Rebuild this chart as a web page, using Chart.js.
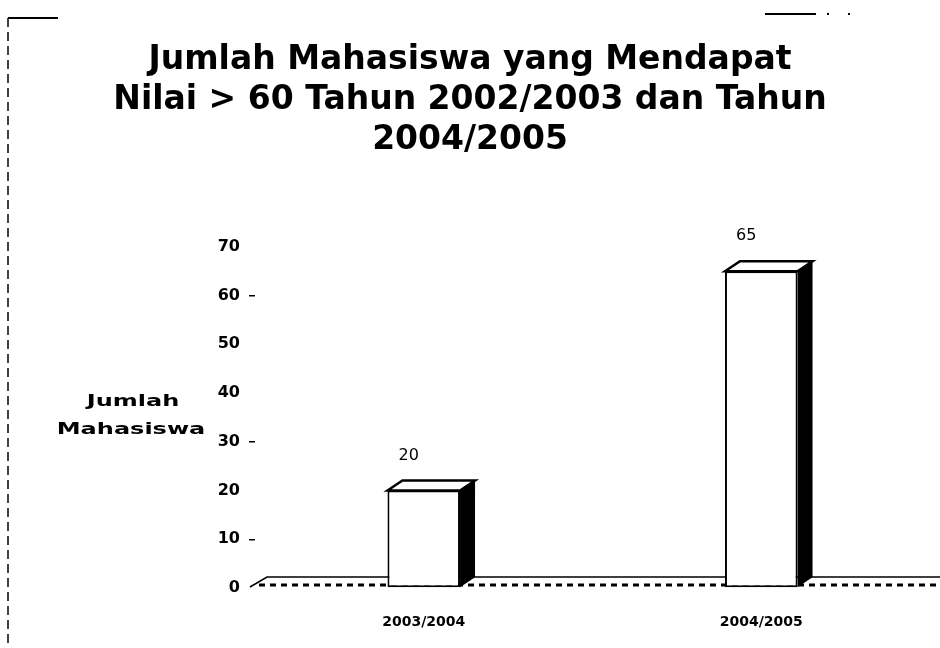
<!DOCTYPE html>
<html>
<head>
<meta charset="utf-8">
<script src="https://cdn.jsdelivr.net/npm/chart.js@4"></script>
<style>
  body { margin: 0; background: #fff; }
  canvas { display: block; }
</style>
</head>
<body>
<canvas id="chart" width="940" height="648"></canvas>
<script>
const canvas = document.getElementById("chart");
const ctx = canvas.getContext("2d");

// data
const categories = ["2003/2004", "2004/2005"];
const jumlahMahasiswa = [20, 65];
const yMin = 0;
const yMax = 70;
const yStep = 10;
const markedTicks = [60, 30, 10]; // ticks that show a small dash
const titleLines = [
  "Jumlah Mahasiswa yang Mendapat",
  "Nilai > 60 Tahun 2002/2003 dan Tahun",
  "2004/2005"
];
const axisTitle = ["Jumlah", "Mahasiswa"];

const DX = 15; // depth of the 3d bars
const DY = 10;

// white page + the scanned frame lines
const framePlugin = {
  id: "frame",
  beforeDraw(chart) {
    const c = chart.ctx;
    c.save();
    c.fillStyle = "#fff";
    c.fillRect(0, 0, chart.width, chart.height);
    c.strokeStyle = "#000";
    c.lineWidth = 2;
    c.beginPath();
    c.moveTo(8, 18); c.lineTo(58, 18);
    c.moveTo(765, 14); c.lineTo(816, 14);
    c.stroke();
    c.fillStyle = "#000";
    c.fillRect(827, 13, 2, 2);
    c.fillRect(848, 13, 2, 2);
    c.lineWidth = 1.5;
    c.setLineDash([9, 5]);
    c.beginPath();
    c.moveTo(8, 18); c.lineTo(8, 648);
    c.stroke();
    c.restore();
  }
};

// floor under the bars
const floorPlugin = {
  id: "floor",
  beforeDatasetsDraw(chart) {
    const c = chart.ctx;
    const a = chart.chartArea;
    const y0 = chart.scales.y.getPixelForValue(0);
    c.save();
    c.strokeStyle = "#000";
    c.lineWidth = 1.5;
    c.beginPath();
    c.moveTo(a.left - 5, y0 - 1);
    c.lineTo(a.left + 12, y0 - 11);
    c.lineTo(chart.width, y0 - 11);
    c.stroke();
    c.lineWidth = 3;
    c.setLineDash([6, 5]);
    c.beginPath();
    c.moveTo(a.left + 4, y0 - 3);
    c.lineTo(chart.width, y0 - 3);
    c.stroke();
    c.restore();
  }
};

// side + top faces and the value labels
const bar3dPlugin = {
  id: "bar3d",
  afterDatasetsDraw(chart) {
    const c = chart.ctx;
    const meta = chart.getDatasetMeta(0);
    c.save();
    meta.data.forEach((bar, i) => {
      const half = bar.width / 2;
      const l = bar.x - half, r = bar.x + half;
      const t = bar.y, b = bar.base;
      c.fillStyle = "#000";
      c.beginPath();
      c.moveTo(r, t); c.lineTo(r + DX, t - DY); c.lineTo(r + DX, b - DY); c.lineTo(r, b);
      c.closePath();
      c.fill();
      c.fillStyle = "#fff";
      c.strokeStyle = "#000";
      c.lineWidth = 2.5;
      c.beginPath();
      c.moveTo(l, t); c.lineTo(l + DX, t - DY); c.lineTo(r + DX, t - DY); c.lineTo(r, t);
      c.closePath();
      c.fill();
      c.stroke();
      c.fillStyle = "#000";
      c.font = "16px 'DejaVu Sans'";
      c.textAlign = "center";
      c.textBaseline = "middle";
      c.fillText(String(jumlahMahasiswa[i]), bar.x - 15, t - 35);
    });
    c.restore();
  }
};

// horizontal, wide y-axis title
const axisTitlePlugin = {
  id: "axisTitle",
  afterDraw(chart) {
    const c = chart.ctx;
    c.fillStyle = "#000";
    c.font = "bold 15px 'DejaVu Sans'";
    c.textAlign = "center";
    c.textBaseline = "middle";
    [[axisTitle[0], 133, 402], [axisTitle[1], 131, 430]].forEach(([txt, x, y]) => {
      c.save();
      c.translate(x, y);
      c.scale(1.6, 1);
      c.fillText(txt, 0, 0);
      c.restore();
    });
  }
};

new Chart(ctx, {
  type: "bar",
  data: {
    labels: categories,
    datasets: [{
      label: "Jumlah Mahasiswa",
      data: jumlahMahasiswa,
      backgroundColor: "#fff",
      borderColor: "#000",
      borderWidth: 2,
      borderSkipped: false,
      categoryPercentage: 1,
      barPercentage: 0.215
    }]
  },
  options: {
    responsive: false,
    animation: false,
    layout: { padding: { left: 10, right: 10, top: 0, bottom: 19 } },
    plugins: {
      legend: { display: false },
      tooltip: { enabled: false },
      title: {
        display: true,
        text: titleLines,
        color: "#000",
        font: { family: "'DejaVu Sans'", size: 33, weight: "bold", lineHeight: 1.2 },
        padding: { top: 41, bottom: 87 }
      }
    },
    scales: {
      x: {
        afterFit(scale) { scale.height = 41; },
        grid: { display: false, drawTicks: false },
        border: { display: false },
        ticks: {
          color: "#000",
          padding: 26,
          font: { family: "'DejaVu Sans'", size: 14, weight: "bold" }
        }
      },
      y: {
        min: yMin,
        max: yMax,
        afterFit(scale) { scale.width = 245; },
        border: { display: false },
        grid: {
          drawOnChartArea: false,
          tickLength: 6,
          lineWidth: 1.5,
          color: (ctx) => markedTicks.includes(ctx.tick && ctx.tick.value) ? "#000" : "rgba(0,0,0,0)"
        },
        ticks: {
          stepSize: yStep,
          color: "#000",
          padding: 9,
          font: { family: "'DejaVu Sans'", size: 16, weight: "bold" }
        }
      }
    }
  },
  plugins: [framePlugin, floorPlugin, bar3dPlugin, axisTitlePlugin]
});
</script>
</body>
</html>
